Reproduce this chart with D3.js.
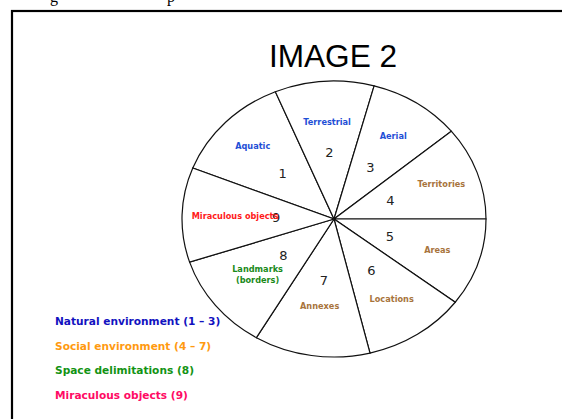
<!DOCTYPE html>
<html>
<head>
<meta charset="utf-8">
<script src="https://cdn.jsdelivr.net/npm/d3@7"></script>
<style>
  body { margin: 0; background: #fff; }
  svg { display: block; }
</style>
</head>
<body>
<script>
// slices, clockwise starting from "Aquatic"
const sliceNumbers = [1, 2, 3, 4, 5, 6, 7, 8, 9];
const sliceLabels = [
  ['Aquatic'],
  ['Terrestrial'],
  ['Aerial'],
  ['Territories'],
  ['Areas'],
  ['Locations'],
  ['Annexes'],
  ['Landmarks', '(borders)'],
  ['Miraculous objects']
];
// angular size of each slice (degrees)
const sliceSpans = [45.6, 38, 35.2, 39.5, 37.1, 39.2, 44.4, 41.1, 39.9];
const sliceGroups = ['natural', 'natural', 'natural', 'social', 'social', 'social', 'social', 'space', 'miracle'];

const legendLabels = [
  'Natural environment (1 \u2013 3)',
  'Social environment (4 \u2013 7)',
  'Space delimitations (8)',
  'Miraculous objects (9)'
];
const legendGroups = ['natural', 'social', 'space', 'miracle'];

const w = 562,
  h = 419;
const cx = 334,
  cy = 219,
  rx = 152,
  ry = 138;
const startDeg = -68.3;

// label placement radius inside each slice
const numberRadius = [72, 73, 67, 60, 59, 68, 68, 65, 58];
const labelRadius = [114, 107, 109, 114, 109, 105, 97, 98, 99];

const sliceColor = {
  natural: '#1f4fd6',
  social: '#a8743c',
  space: '#1a8a1a',
  miracle: '#ff1a1a'
};
const legendColor = {
  natural: '#1212c0',
  social: '#ff9a10',
  space: '#139313',
  miracle: '#ff0a64'
};

const svg = d3
  .select('body')
  .append('svg')
  .attr('width', w)
  .attr('height', h);

svg.append('rect').attr('width', w).attr('height', h).attr('fill', '#fff');

// descenders of the text line above (cut off)
svg
  .selectAll('text.above')
  .data([['g', 50], ['p', 167]])
  .join('text')
  .attr('class', 'above')
  .attr('x', d => d[1])
  .attr('y', 2)
  .style('font-family', '"Liberation Serif", serif')
  .style('font-size', '16px')
  .text(d => d[0]);

// frame
svg
  .append('rect')
  .attr('x', 12)
  .attr('y', 11)
  .attr('width', 620)
  .attr('height', 500)
  .attr('fill', 'none')
  .attr('stroke', '#000')
  .attr('stroke-width', 2.2);

svg
  .append('text')
  .attr('x', 333)
  .attr('y', 67)
  .attr('text-anchor', 'middle')
  .style('font-family', '"Liberation Sans", Arial, sans-serif')
  .style('font-size', '31.6px')
  .text('IMAGE 2');

const start = (startDeg * Math.PI) / 180;
const pie = d3
  .pie()
  .sort(null)
  .value(d => d)
  .startAngle(start)
  .endAngle(start + 2 * Math.PI);
const arcs = pie(sliceSpans);
const k = ry / rx;

const g = svg
  .append('g')
  .attr('transform', `translate(${cx},${cy}) scale(1,${k})`);

g.selectAll('path')
  .data(arcs)
  .join('path')
  .attr('d', d3.arc().innerRadius(0).outerRadius(rx))
  .attr('fill', '#fff')
  .attr('stroke', '#111')
  .attr('stroke-width', 1.2)
  .attr('vector-effect', 'non-scaling-stroke');

function placeAt(d, r) {
  const c = d3.arc().innerRadius(r).outerRadius(r).centroid(d);
  return [cx + c[0], cy + c[1] * k];
}

// slice numbers
svg
  .selectAll('text.num')
  .data(arcs)
  .join('text')
  .attr('class', 'num')
  .attr('x', (d, i) => placeAt(d, numberRadius[i])[0])
  .attr('y', (d, i) => placeAt(d, numberRadius[i])[1])
  .attr('text-anchor', 'middle')
  .attr('dominant-baseline', 'central')
  .attr('fill', '#222')
  .style('font-family', '"DejaVu Sans", Verdana, sans-serif')
  .style('font-size', '13px')
  .text((d, i) => sliceNumbers[i]);

// slice names
const names = svg
  .selectAll('text.name')
  .data(arcs)
  .join('text')
  .attr('class', 'name')
  .attr('text-anchor', 'middle')
  .attr('dominant-baseline', 'central')
  .attr('fill', (d, i) => sliceColor[sliceGroups[i]])
  .style('font-family', '"DejaVu Sans", Verdana, sans-serif')
  .style('font-weight', 'bold')
  .style('font-size', '8.2px');

names
  .selectAll('tspan')
  .data((d, i) => {
    const p = placeAt(d, labelRadius[i]);
    const lines = sliceLabels[i];
    return lines.map((t, j) => ({ t, x: p[0], y: p[1] + (j - (lines.length - 1) / 2) * 11 }));
  })
  .join('tspan')
  .attr('x', d => d.x)
  .attr('y', d => d.y)
  .text(d => d.t);

// legend
svg
  .selectAll('text.legend')
  .data(legendLabels)
  .join('text')
  .attr('class', 'legend')
  .attr('x', 55)
  .attr('y', (d, i) => 321 + i * 24.6)
  .attr('dominant-baseline', 'central')
  .attr('fill', (d, i) => legendColor[legendGroups[i]])
  .style('font-family', '"DejaVu Sans", Verdana, sans-serif')
  .style('font-weight', 'bold')
  .style('font-size', '10.6px')
  .text(d => d);
</script>
</body>
</html>
